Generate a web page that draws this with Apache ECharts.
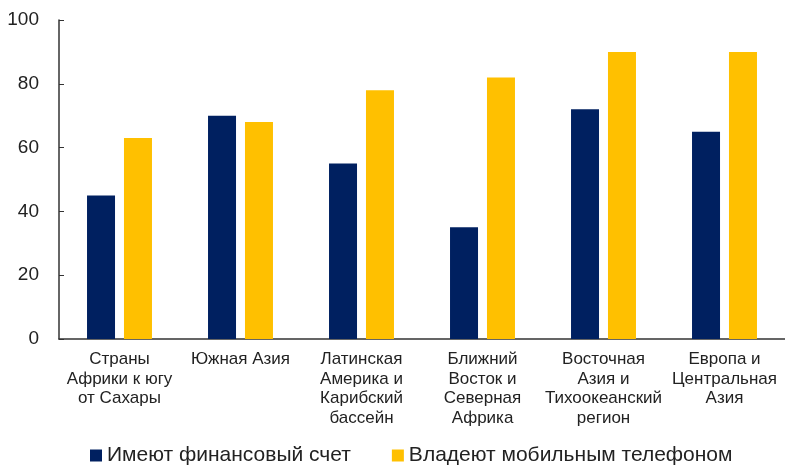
<!DOCTYPE html>
<html>
<head>
<meta charset="utf-8">
<script src="https://cdn.jsdelivr.net/npm/echarts@6/dist/echarts.min.js"></script>
<style>
  html, body { margin: 0; padding: 0; background: #fff; }
  #chart { width: 785px; height: 470px; }
</style>
</head>
<body>
<div id="chart"></div>
<script>
// категории и значения (%)
const categories = [
  'Страны\nАфрики к югу\nот Сахары',
  'Южная Азия',
  'Латинская\nАмерика и\nКарибский\nбассейн',
  'Ближний\nВосток и\nСеверная\nАфрика',
  'Восточная\nАзия и\nТихоокеанский\nрегион',
  'Европа и\nЦентральная\nАзия'
]
const accountValues = [45, 70, 55, 35, 72, 65]
const mobileValues = [63, 68, 78, 82, 90, 90]
const seriesNames = ['Имеют финансовый счет', 'Владеют мобильным телефоном']

const chart = echarts.init(document.getElementById('chart'))
const option = {
  animation: false,
  grid: { left: 59, right: 0, top: 20, bottom: 131 },
  legend: {
    bottom: -1,
    left: 85,
    itemWidth: 12,
    itemHeight: 12,
    itemGap: 41,
    icon: 'rect',
    textStyle: { fontFamily: 'Liberation Sans', fontSize: 21, color: '#222' },
    data: seriesNames
  },
  xAxis: {
    type: 'category',
    data: categories,
    axisLine: { lineStyle: { color: '#333', width: 1.5 } },
    axisTick: { show: false },
    axisLabel: {
      interval: 0,
      margin: 11,
      fontFamily: 'Liberation Sans',
      fontSize: 17,
      lineHeight: 19.5,
      color: '#222'
    }
  },
  yAxis: {
    type: 'value',
    min: 0,
    max: 100,
    interval: 20,
    splitLine: { show: false },
    axisLine: { show: true, lineStyle: { color: '#333', width: 1.5 } },
    axisTick: { show: true, inside: true, length: 5, lineStyle: { color: '#333' } },
    axisLabel: {
      margin: 20,
      fontFamily: 'Liberation Sans',
      fontSize: 19,
      color: '#222'
    }
  },
  series: [
    {
      name: seriesNames[0],
      type: 'bar',
      data: accountValues,
      barWidth: 28,
      barGap: '32%',
      itemStyle: { color: '#002060' }
    },
    {
      name: seriesNames[1],
      type: 'bar',
      data: mobileValues,
      barWidth: 28,
      itemStyle: { color: '#FFC000' }
    }
  ]
}
chart.setOption(option)
</script>
</body>
</html>
